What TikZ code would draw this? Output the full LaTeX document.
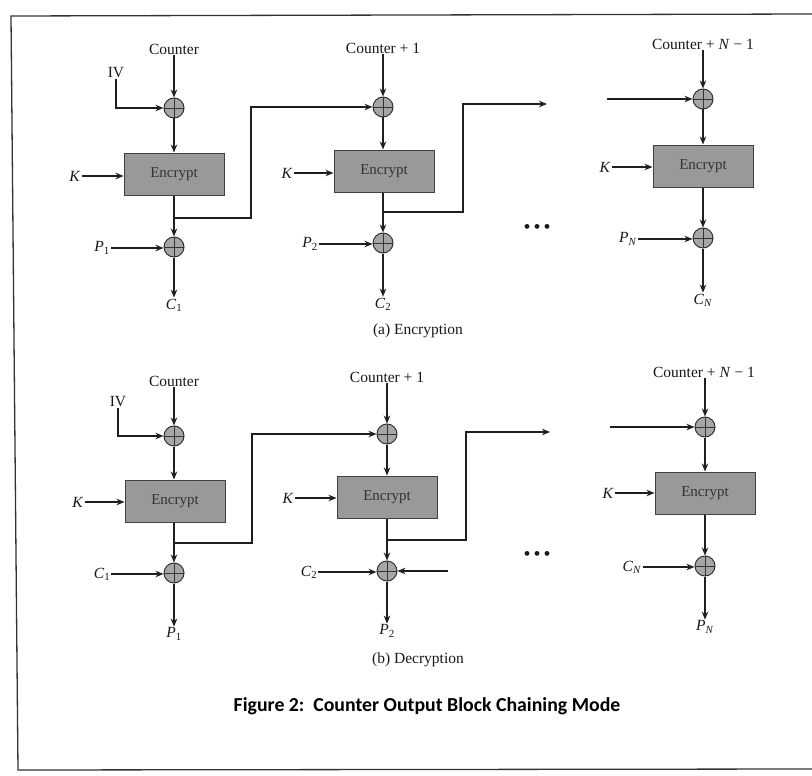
\documentclass[tikz,border=0pt]{standalone}
\usepackage{fontspec}
\setmainfont{Liberation Serif}
\newfontfamily\capfont{Carlito}
\usetikzlibrary{arrows.meta}
\newcommand\mysub[2]{\textit{#1}\textsubscript{#2}}
\tikzset{
  lbl/.style={inner sep=1pt, font=\fontsize{15.5}{18}\selectfont, text=black!90},
  xorc/.style={circle, draw=black!80, line width=1pt, fill=black!35, minimum size=20pt, inner sep=0pt,
    path picture={\draw[black!80, line width=0.8pt] (path picture bounding box.north) -- (path picture bounding box.south)
      (path picture bounding box.west) -- (path picture bounding box.east);}},
  encbox/.style={rectangle, draw=black!75, line width=1pt, fill=black!40, minimum width=100pt, minimum height=42pt,
    font=\fontsize{15}{17}\selectfont, text=black!80},
  arr/.style={line width=1.6pt, draw=black!88, -{Stealth[length=8pt,width=6.5pt]}},
  dotsty/.style={inner sep=1pt, font=\fontsize{20}{22}\selectfont, text=black!90},
}
\begin{document}
\begin{tikzpicture}[x=1pt,y=-1pt]
\useasboundingbox (0,0) rectangle (812,776);
\fill[white] (0,0) rectangle (812,776);
% frame
\draw[line width=1.3pt, black!80] (812,14) -- (11,16) -- (18,770) -- (812,769);

% ================= (a) Encryption =================
% column 1
\node[lbl] (ctr1) at (174,49) {Counter};
\node[lbl] (iv1) at (116,73) {IV};
\node[xorc] (xa1) at (174,108) {};
\node[encbox] (enc1) at (174,174) {Encrypt};
\node[lbl] (k1) at (75,176) {\textit{K}};
\node[xorc] (xb1) at (174,247) {};
\node[lbl] (p1) at (102,248) {\mysub{P}{1}};
\node[lbl] (c1) at (174,305) {\mysub{C}{1}};
\coordinate (j1) at (174,218);
\coordinate (t1) at (251,218);
% column 2
\node[lbl] (ctr2) at (383,48) {Counter + 1};
\node[xorc] (xa2) at (383,107) {};
\node[encbox] (enc2) at (384,171) {Encrypt};
\node[lbl] (k2) at (287,173) {\textit{K}};
\node[xorc] (xb2) at (383,243) {};
\node[lbl] (p2) at (310,244) {\mysub{P}{2}};
\node[lbl] (c2) at (383,304) {\mysub{C}{2}};
\coordinate (j2) at (383,212);
\coordinate (t2) at (463,212);
\coordinate (e2) at (547,104);
% column 3
\node[lbl] (ctr3) at (703,44) {Counter + \textit{N} − 1};
\coordinate (s3) at (607,99);
\node[xorc] (xa3) at (703,99) {};
\node[encbox] (enc3) at (703,166) {Encrypt};
\node[lbl] (k3) at (605,167) {\textit{K}};
\node[xorc] (xb3) at (703,238) {};
\node[lbl] (pN) at (628,239) {\mysub{P}{\textit{N}}};
\node[lbl] (cN) at (703,300) {\mysub{C}{\textit{N}}};
\node[dotsty] (dots1) at (537,229) {\textbullet\hspace{3pt}\textbullet\hspace{3pt}\textbullet};
\node[lbl] (capa) at (418,331) {(a) Encryption};

\draw[arr] (xa1 |- ctr1.south) -- (xa1);
\draw[arr] (iv1.south) |- (xa1);
\draw[arr] (xa1) -- (enc1);
\draw[arr] (k1) -- (k1 -| enc1.west);
\draw[arr] (enc1) -- (xb1);
\draw[arr] (p1) -- (p1 -| xb1.west);
\draw[arr] (xb1) -- (c1);
\draw[arr] (j1) -- (t1) |- (xa2);

\draw[arr] (xa2 |- ctr2.south) -- (xa2);
\draw[arr] (xa2) -- (xa2 |- enc2.north);
\draw[arr] (k2) -- (k2 -| enc2.west);
\draw[arr] (xa2 |- enc2.south) -- (xb2);
\draw[arr] (p2) -- (p2 -| xb2.west);
\draw[arr] (xb2) -- (c2);
\draw[arr] (j2) -- (t2) |- (e2);

\draw[arr] (xa3 |- ctr3.south) -- (xa3);
\draw[arr] (s3) -- (xa3);
\draw[arr] (xa3) -- (enc3);
\draw[arr] (k3) -- (k3 -| enc3.west);
\draw[arr] (enc3) -- (xb3);
\draw[arr] (pN) -- (pN -| xb3.west);
\draw[arr] (xb3) -- (cN);

% ================= (b) Decryption =================
% column 1
\node[lbl] (ctr4) at (174,381) {Counter};
\node[lbl] (iv4) at (118,402) {IV};
\node[xorc] (xa4) at (174,436) {};
\node[encbox] (enc4) at (175,501) {Encrypt};
\node[lbl] (k4) at (78,502) {\textit{K}};
\node[xorc] (xb4) at (174,573) {};
\node[lbl] (c4) at (102,574) {\mysub{C}{1}};
\node[lbl] (p4) at (174,634) {\mysub{P}{1}};
\coordinate (j4) at (174,543);
\coordinate (t4) at (252,543);
% column 2
\node[lbl] (ctr5) at (387,377) {Counter + 1};
\node[xorc] (xa5) at (387,434) {};
\node[encbox] (enc5) at (387,497) {Encrypt};
\node[lbl] (k5) at (288,498) {\textit{K}};
\node[xorc] (xb5) at (387,571) {};
\node[lbl] (c5) at (309,572) {\mysub{C}{2}};
\coordinate (r5) at (448,571);
\node[lbl] (p5) at (387,631) {\mysub{P}{2}};
\coordinate (j5) at (387,540);
\coordinate (t5) at (466,540);
\coordinate (e5) at (550,432);
% column 3
\node[lbl] (ctr6) at (704,372) {Counter + \textit{N} − 1};
\coordinate (s6) at (610,427);
\node[xorc] (xa6) at (705,427) {};
\node[encbox] (enc6) at (705,493) {Encrypt};
\node[lbl] (k6) at (608,493) {\textit{K}};
\node[xorc] (xb6) at (705,566) {};
\node[lbl] (c6) at (632,567) {\mysub{C}{\textit{N}}};
\node[lbl] (p6) at (705,627) {\mysub{P}{\textit{N}}};
\node[dotsty] (dots2) at (537,556) {\textbullet\hspace{3pt}\textbullet\hspace{3pt}\textbullet};
\node[lbl] (capb) at (418,660) {(b) Decryption};

\draw[arr] (xa4 |- ctr4.south) -- (xa4);
\draw[arr] (iv4.south) |- (xa4);
\draw[arr] (xa4) -- (xa4 |- enc4.north);
\draw[arr] (k4) -- (k4 -| enc4.west);
\draw[arr] (xa4 |- enc4.south) -- (xb4);
\draw[arr] (c4) -- (c4 -| xb4.west);
\draw[arr] (xb4) -- (p4);
\draw[arr] (j4) -- (t4) |- (xa5);

\draw[arr] (xa5 |- ctr5.south) -- (xa5);
\draw[arr] (xa5) -- (enc5);
\draw[arr] (k5) -- (k5 -| enc5.west);
\draw[arr] (enc5) -- (xb5);
\draw[arr] (c5) -- (c5 -| xb5.west);
\draw[arr] (r5) -- (xb5);
\draw[arr] (xb5) -- (p5);
\draw[arr] (j5) -- (t5) |- (e5);

\draw[arr] (xa6 |- ctr6.south) -- (xa6);
\draw[arr] (s6) -- (xa6);
\draw[arr] (xa6) -- (enc6);
\draw[arr] (k6) -- (k6 -| enc6.west);
\draw[arr] (enc6) -- (xb6);
\draw[arr] (c6) -- (c6 -| xb6.west);
\draw[arr] (xb6) -- (p6);

% caption
\node[inner sep=0pt, font=\capfont\bfseries\fontsize{19.8}{24}\selectfont] (cap) at (427,706) {Figure 2:\ \ Counter Output Block Chaining Mode};
\end{tikzpicture}
\end{document}
